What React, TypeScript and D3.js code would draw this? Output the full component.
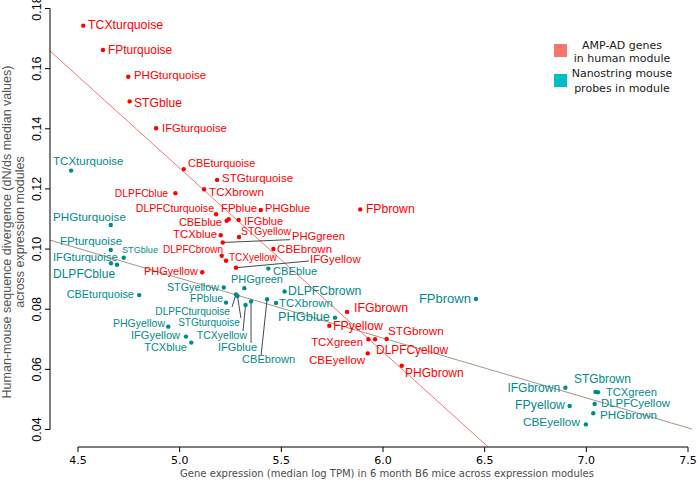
import React from "react";
import * as d3 from "d3";

// ---- Data ----
const redNames = [
  "TCXturquoise", "FPturquoise", "PHGturquoise", "STGblue", "IFGturquoise",
  "CBEturquoise", "STGturquoise", "TCXbrown", "DLPFCblue", "DLPFCturquoise",
  "FPblue", "CBEblue", "PHGblue", "IFGblue", "TCXblue",
  "STGyellow", "PHGgreen", "CBEbrown", "DLPFCbrown", "TCXyellow",
  "IFGyellow", "PHGyellow", "FPbrown", "IFGbrown", "FPyellow",
  "STGbrown", "TCXgreen", "DLPFCyellow", "CBEyellow", "PHGbrown",
];
const redX = [
  4.526, 4.623, 4.747, 4.754, 4.884,
  5.020, 5.184, 5.120, 4.979, 5.179,
  5.241, 5.231, 5.399, 5.290, 5.202,
  5.292, 5.212, 5.461, 5.207, 5.228,
  5.277, 5.111, 5.888, 5.823, 5.736,
  6.018, 5.928, 5.961, 5.925, 6.092,
];
const redY = [
  0.1743, 0.1662, 0.1573, 0.1491, 0.1402,
  0.1266, 0.1230, 0.1199, 0.1186, 0.1116,
  0.1099, 0.1094, 0.1130, 0.1097, 0.1046,
  0.1040, 0.1022, 0.1000, 0.0978, 0.0961,
  0.0938, 0.0923, 0.1132, 0.0791, 0.0745,
  0.0701, 0.0700, 0.0700, 0.0653, 0.0612,
];

const tealNames = [
  "TCXturquoise", "PHGturquoise", "FPturquoise", "STGblue", "IFGturquoise",
  "DLPFCblue", "CBEturquoise", "CBEblue", "PHGgreen", "STGyellow",
  "DLPFCbrown", "FPblue", "DLPFCturquoise", "STGturquoise", "TCXyellow",
  "IFGblue", "CBEbrown", "TCXbrown", "PHGblue", "FPbrown",
  "PHGyellow", "IFGyellow", "TCXblue", "IFGbrown", "STGbrown",
  "TCXgreen", "DLPFCyellow", "PHGbrown", "FPyellow", "CBEyellow",
];
const tealX = [
  4.466, 4.661, 4.661, 4.725, 4.662,
  4.692, 4.801, 5.436, 5.318, 5.217,
  5.516, 5.228, 5.277, 5.284, 5.324,
  5.351, 5.430, 5.474, 5.764, 6.457,
  4.944, 5.031, 5.057, 6.897, 7.045,
  7.057, 7.041, 7.034, 6.918, 6.998,
];
const tealY = [
  0.1261, 0.1080, 0.0997, 0.0971, 0.0953,
  0.0948, 0.0847, 0.0935, 0.0870, 0.0872,
  0.0859, 0.0822, 0.0849, 0.0844, 0.0814,
  0.0826, 0.0833, 0.0821, 0.0772, 0.0834,
  0.0742, 0.0709, 0.0689, 0.0539, 0.0525,
  0.0524, 0.0485, 0.0454, 0.0478, 0.0417,
];

// regression fits: [red (AMP-AD), teal (Nanostring)]
const fitIntercepts = [0.4324, 0.1898];
const fitSlopes = [-0.0611, -0.0199];

const xTicks = [4.5, 5.0, 5.5, 6.0, 6.5, 7.0, 7.5];
const yTicks = [0.04, 0.06, 0.08, 0.1, 0.12, 0.14, 0.16, 0.18];

const legendLabels = [
  ["AMP-AD genes", "in human module"],
  ["Nanostring mouse", "probes in module"],
];
const xTitle = "Gene expression (median log TPM) in 6 month B6 mice across expression modules";
const yTitle = ["Human-mouse sequence divergence (dN/ds median values)", "across expression modules"];

// ---- Label layout (anchor, dx, dy, font size, leader end dx, leader end dy) ----
type Lay = [string, number, number, number, number?, number?];
const redLayout: Lay[] = [
  ["start", 4.7, -0.7, 12.3], ["start", 5, 0, 11.9], ["start", 5.7, -1.7, 11.5],
  ["start", 4.3, 1.4, 12.2], ["start", 6, 0, 11.2],
  ["start", 4.3, -5.7, 10.9], ["start", 5, -2.3, 11.5], ["start", 5, 2.4, 11.6],
  ["end", -7.3, 0.3, 10.3], ["end", -2, -6, 10.6],
  ["start", -7.7, -11.8, 11.4], ["end", -4.7, 1, 10.9], ["start", 4.3, -1.7, 11.1],
  ["start", 5.3, 1, 11], ["end", -3.7, -1.3, 11.3],
  ["start", 2, -6, 10.3], ["start", 69.3, -6.6, 11.2, 67.3, -2.8], ["start", 3.7, -0.3, 11.5],
  ["end", 1.3, -6.4, 10], ["start", 3, -3.4, 10],
  ["start", 74, -8.4, 11.4, 73, -6.7], ["end", -4.3, -1.6, 10.9], ["start", 5.7, 0, 12.2],
  ["start", 7, -3.7, 12.3], ["start", 3.7, 0, 12.3],
  ["start", 1.3, -8, 11.7], ["end", -5.3, 2.4, 11.4], ["start", 1, 10.7, 11.9],
  ["end", -2.7, 6, 11.6], ["start", 3.3, 7, 12],
];
const tealLayout: Lay[] = [
  ["start", -18, -9.7, 11.5], ["start", -57.7, -8.3, 11.6], ["start", -50.7, -9.3, 11.5],
  ["start", -1.7, -7.7, 9.1], ["start", -58, -6.6, 11.2],
  ["start", -64, 9.3, 12], ["end", -5.3, -1, 10.9], ["start", 4.7, 2, 11.2],
  ["start", -13.3, -9.3, 11], ["end", -4.7, -0.8, 10.8],
  ["start", 3.5, -0.5, 12.2], ["end", -3, -4, 10.4], ["end", -6, 16.8, 10.1, -4, 12.5],
  ["end", 2.5, 26.7, 10, 3.5, 22], ["end", 1.5, 30.3, 10.5, -2.5, 26],
  ["end", 6, 45.8, 11, 0, 41.5], ["end", 28, 60, 11.1, -6, 55.7], ["start", 3, 0, 11.4],
  ["end", -5, -1, 12.8], ["end", -5, 0, 13],
  ["end", -3.3, -3.7, 10.5], ["end", -6, -1.7, 11], ["end", -4.3, 4.6, 11],
  ["end", -5.3, 0, 12], ["start", -21.5, -13, 11.9],
  ["start", 8, -0.6, 11.2], ["start", 6.3, -1.3, 11.4], ["start", 6.7, 1, 11.7],
  ["end", -4.7, -0.7, 12.3], ["end", -6, -2.3, 11.8],
];

const RED = "#FF0000";
const TEAL = "#008B8B";
const FIT_COLORS = ["#F8766D", "#A89684"];
const LEGEND_COLORS = ["#F8766D", "#00BFC4"];
const LABEL_FONT = "'Liberation Sans', Arial, sans-serif";
const AXIS_FONT = "'DejaVu Sans', Verdana, sans-serif";

const W = 697;
const H = 480;
const x = d3.scaleLinear().domain([4.5, 7.5]).range([78, 688]);
const y = d3.scaleLinear().domain([0.04, 0.18]).range([429.5, 8.5]);
const plotLeft = 50;
const plotBottom = 447;

function Series({ names, xs, ys, layout, color }: any) {
  return (
    <g>
      {names.map((n: string, i: number) => {
        const [anchor, dx, dy, , ldx, ldy] = layout[i];
        if (ldx === undefined) return null;
        const px = x(xs[i]);
        const py = y(ys[i]);
        return (
          <line key={"l" + i} x1={px} y1={py} x2={px + ldx} y2={py + (ldy as number)}
            stroke="#333" strokeWidth={0.9} />
        );
      })}
      {names.map((n: string, i: number) => (
        <circle key={"c" + i} cx={x(xs[i])} cy={y(ys[i])} r={2.2} fill={color} />
      ))}
      {names.map((n: string, i: number) => {
        const [anchor, dx, dy, size] = layout[i];
        return (
          <text key={"t" + i} x={x(xs[i]) + dx} y={y(ys[i]) + dy}
            textAnchor={anchor} dominantBaseline="central"
            fontFamily={LABEL_FONT} fontSize={size} fill={color}>{n}</text>
        );
      })}
    </g>
  );
}

export default function App() {
  const x0 = x.invert(plotLeft);
  const x1 = 7.52;
  return (
    <svg width={W} height={H} style={{ position: "absolute", left: 0, top: 0, background: "#fff" }}>
      <defs>
        <clipPath id="plotclip">
          <rect x={plotLeft} y={0} width={W - plotLeft} height={plotBottom} />
        </clipPath>
      </defs>
      {/* fit lines */}
      <g clipPath="url(#plotclip)">
        {fitIntercepts.map((b, i) => (
          <line key={i} x1={x(x0)} y1={y(b + fitSlopes[i] * x0)} x2={x(x1)} y2={y(b + fitSlopes[i] * x1)}
            stroke={FIT_COLORS[i]} strokeWidth={1} />
        ))}
      </g>
      {/* y axis */}
      <g>
        <line x1={plotLeft} x2={plotLeft} y1={y(0.04)} y2={y(0.18)} stroke="#000" strokeWidth={1} />
        {yTicks.map((t) => (
          <g key={t}>
            <line x1={plotLeft - 5} x2={plotLeft} y1={y(t)} y2={y(t)} stroke="#000" strokeWidth={1} />
            <text transform={`translate(${plotLeft - 9},${y(t)}) rotate(-90)`} textAnchor="middle"
              dominantBaseline="auto" fontFamily={LABEL_FONT} fontSize={12.5} fill="#000">{d3.format(".2f")(t)}</text>
          </g>
        ))}
      </g>
      {/* x axis */}
      <g>
        <line x1={x(4.5)} x2={x(7.5)} y1={plotBottom} y2={plotBottom} stroke="#000" strokeWidth={1} />
        {xTicks.map((t) => (
          <g key={t}>
            <line x1={x(t)} x2={x(t)} y1={plotBottom} y2={plotBottom + 5} stroke="#000" strokeWidth={1} />
            <text x={x(t)} y={plotBottom + 13} textAnchor="middle" dominantBaseline="central"
              fontFamily={AXIS_FONT} fontSize={11} fill="#000">{d3.format(".1f")(t)}</text>
          </g>
        ))}
      </g>
      <text x={387} y={473} textAnchor="middle" dominantBaseline="central" fontFamily={AXIS_FONT}
        fontSize={10} fill="#4d4d4d">{xTitle}</text>
      {yTitle.map((t, i) => (
        <text key={i} transform={`translate(${7 + i * 13},232) rotate(-90)`} textAnchor="middle"
          dominantBaseline="central" fontFamily={LABEL_FONT} fontSize={12.5} fill="#555">{t}</text>
      ))}
      <Series names={redNames} xs={redX} ys={redY} layout={redLayout} color={RED} />
      <Series names={tealNames} xs={tealX} ys={tealY} layout={tealLayout} color={TEAL} />
      {/* legend */}
      {legendLabels.map((lines, i) => (
        <g key={i}>
          <rect x={554} y={44 + i * 30} width={13} height={13} fill={LEGEND_COLORS[i]} />
          {lines.map((l, j) => (
            <text key={j} x={622} y={45 + i * 28.3 + j * 13.3 + (i * j * 1.7)} textAnchor="middle"
              dominantBaseline="central" fontFamily={AXIS_FONT} fontSize={11} fill="#1a1a1a">{l}</text>
          ))}
        </g>
      ))}
    </svg>
  );
}
